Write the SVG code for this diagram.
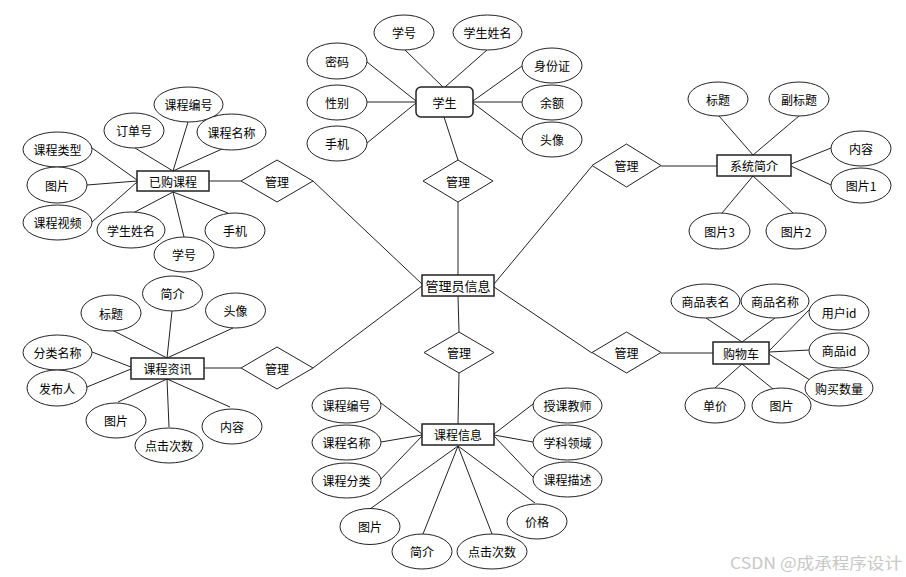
<svg xmlns="http://www.w3.org/2000/svg" width="906" height="577" viewBox="0 0 906 577">
<style>
.e{fill:#fff;stroke:#222;stroke-width:1}
.r{fill:#fff;stroke:#222;stroke-width:1.5}
.d{fill:#fff;stroke:#222;stroke-width:1}
.c line{stroke:#222;stroke-width:1}
text{font-family:"Microsoft YaHei","Noto Sans CJK SC","Noto Sans",sans-serif;font-size:12px;fill:#000;text-anchor:middle;dominant-baseline:central}
.big{font-size:13px}
.wm{font-size:16px;fill:#c8c8c8;text-anchor:start}
</style>
<rect width="906" height="577" fill="#fff"/>
<g class="c" id="connectors">
<line x1="405" y1="50" x2="443" y2="87"/>
<line x1="487" y1="50" x2="445" y2="87"/>
<line x1="367" y1="62" x2="416" y2="101"/>
<line x1="367" y1="102" x2="416" y2="102"/>
<line x1="367" y1="143" x2="416" y2="103"/>
<line x1="522" y1="66" x2="473" y2="101"/>
<line x1="522" y1="102" x2="473" y2="102"/>
<line x1="522" y1="140" x2="473" y2="103"/>
<line x1="444" y1="117" x2="458" y2="160"/>
<line x1="458" y1="202" x2="458" y2="275"/>
<line x1="173" y1="171" x2="188" y2="122"/>
<line x1="173" y1="171" x2="135" y2="148"/>
<line x1="173" y1="171" x2="222" y2="149"/>
<line x1="92" y1="148" x2="137" y2="180"/>
<line x1="87" y1="185" x2="137" y2="181"/>
<line x1="92" y1="222" x2="137" y2="182"/>
<line x1="173" y1="192" x2="133" y2="213"/>
<line x1="173" y1="192" x2="184" y2="237"/>
<line x1="173" y1="192" x2="228" y2="213"/>
<line x1="209" y1="181" x2="241" y2="181"/>
<line x1="313" y1="181" x2="422" y2="284"/>
<line x1="167" y1="358" x2="112" y2="330"/>
<line x1="167" y1="358" x2="172" y2="311"/>
<line x1="167" y1="358" x2="233" y2="328"/>
<line x1="131" y1="367" x2="92" y2="352"/>
<line x1="131" y1="369" x2="87" y2="387"/>
<line x1="167" y1="379" x2="118" y2="402"/>
<line x1="167" y1="379" x2="169" y2="427"/>
<line x1="167" y1="379" x2="230" y2="407"/>
<line x1="204" y1="368" x2="241" y2="368"/>
<line x1="313" y1="368" x2="422" y2="286"/>
<line x1="494" y1="284" x2="592" y2="166"/>
<line x1="661" y1="166" x2="717" y2="166"/>
<line x1="753" y1="155" x2="719" y2="116"/>
<line x1="753" y1="155" x2="799" y2="116"/>
<line x1="791" y1="164" x2="831" y2="148"/>
<line x1="791" y1="166" x2="831" y2="185"/>
<line x1="753" y1="176" x2="722" y2="213"/>
<line x1="753" y1="176" x2="793" y2="213"/>
<line x1="494" y1="287" x2="592" y2="353"/>
<line x1="661" y1="353" x2="713" y2="353"/>
<line x1="742" y1="342" x2="706" y2="318"/>
<line x1="742" y1="342" x2="775" y2="318"/>
<line x1="769" y1="351" x2="810" y2="309"/>
<line x1="769" y1="352" x2="810" y2="350"/>
<line x1="769" y1="354" x2="813" y2="382"/>
<line x1="742" y1="364" x2="715" y2="388"/>
<line x1="742" y1="364" x2="773" y2="389"/>
<line x1="458" y1="296" x2="459" y2="332"/>
<line x1="459" y1="373" x2="458" y2="424"/>
<line x1="381" y1="403" x2="422" y2="434"/>
<line x1="381" y1="442" x2="422" y2="435"/>
<line x1="379" y1="481" x2="422" y2="436"/>
<line x1="494" y1="434" x2="533" y2="404"/>
<line x1="494" y1="435" x2="533" y2="442"/>
<line x1="494" y1="436" x2="533" y2="477"/>
<line x1="458" y1="446" x2="370" y2="509"/>
<line x1="458" y1="446" x2="423" y2="534"/>
<line x1="458" y1="446" x2="492" y2="534"/>
<line x1="458" y1="446" x2="535" y2="503"/>
</g>

<g id="admin"><rect class="r" x="422" y="275" width="72" height="21"/><text class="big" x="458" y="285.5">管理员信息</text></g>

<g id="student"><rect class="r" x="416" y="87" width="57" height="30" rx="5"/><text x="444.5" y="102">学生</text></g>
<g id="s_xuehao"><ellipse class="e" cx="404" cy="32.5" rx="30" ry="17.5"/><text x="404" y="32.5">学号</text></g>
<g id="s_name"><ellipse class="e" cx="487.5" cy="32.5" rx="34.5" ry="17.5"/><text x="487.5" y="32.5">学生姓名</text></g>
<g id="s_pwd"><ellipse class="e" cx="337" cy="61" rx="30" ry="18"/><text x="337" y="61">密码</text></g>
<g id="s_sex"><ellipse class="e" cx="337" cy="102.5" rx="30" ry="17.5"/><text x="337" y="102.5">性别</text></g>
<g id="s_phone"><ellipse class="e" cx="337" cy="143.5" rx="30" ry="17.5"/><text x="337" y="143.5">手机</text></g>
<g id="s_id"><ellipse class="e" cx="552" cy="65.5" rx="30" ry="17.5"/><text x="552" y="65.5">身份证</text></g>
<g id="s_bal"><ellipse class="e" cx="552" cy="102.5" rx="30" ry="17.5"/><text x="552" y="102.5">余额</text></g>
<g id="s_avatar"><ellipse class="e" cx="552" cy="139.5" rx="30" ry="17.5"/><text x="552" y="139.5">头像</text></g>
<g id="rel_student"><polygon class="d" points="458,160 493,181 458,202 423,181"/><text x="458" y="181">管理</text></g>

<g id="bought"><rect class="r" x="137" y="171" width="72" height="20"/><text x="173" y="181">已购课程</text></g>
<g id="b_code"><ellipse class="e" cx="188.5" cy="104.5" rx="34.5" ry="17.5"/><text x="188.5" y="104.5">课程编号</text></g>
<g id="b_order"><ellipse class="e" cx="134" cy="130.5" rx="30" ry="17.5"/><text x="134" y="130.5">订单号</text></g>
<g id="b_cname"><ellipse class="e" cx="231.5" cy="132" rx="34.5" ry="18"/><text x="231.5" y="132">课程名称</text></g>
<g id="b_type"><ellipse class="e" cx="57.5" cy="149.5" rx="34.5" ry="17.5"/><text x="57.5" y="149.5">课程类型</text></g>
<g id="b_pic"><ellipse class="e" cx="57" cy="185" rx="30" ry="18"/><text x="57" y="185">图片</text></g>
<g id="b_video"><ellipse class="e" cx="57.5" cy="222.5" rx="34.5" ry="17.5"/><text x="57.5" y="222.5">课程视频</text></g>
<g id="b_sname"><ellipse class="e" cx="131" cy="230" rx="34" ry="18"/><text x="131" y="230">学生姓名</text></g>
<g id="b_sno"><ellipse class="e" cx="184" cy="254.5" rx="30" ry="17.5"/><text x="184" y="254.5">学号</text></g>
<g id="b_phone"><ellipse class="e" cx="235" cy="230.5" rx="30" ry="17.5"/><text x="235" y="230.5">手机</text></g>
<g id="rel_bought"><polygon class="d" points="277,160 313,181 277,202 241,181"/><text x="277" y="181">管理</text></g>

<g id="news"><rect class="r" x="131" y="358" width="73" height="21"/><text x="167.5" y="368.5">课程资讯</text></g>
<g id="n_intro"><ellipse class="e" cx="172.5" cy="293.5" rx="30" ry="17.5"/><text x="172.5" y="293.5">简介</text></g>
<g id="n_title"><ellipse class="e" cx="111" cy="313" rx="30" ry="18"/><text x="111" y="313">标题</text></g>
<g id="n_avatar"><ellipse class="e" cx="235.5" cy="310.5" rx="30" ry="17.5"/><text x="235.5" y="310.5">头像</text></g>
<g id="n_cat"><ellipse class="e" cx="57.5" cy="352.5" rx="34.5" ry="17.5"/><text x="57.5" y="352.5">分类名称</text></g>
<g id="n_pub"><ellipse class="e" cx="57" cy="388" rx="30" ry="18"/><text x="57" y="388">发布人</text></g>
<g id="n_pic"><ellipse class="e" cx="116" cy="420.5" rx="30" ry="17.5"/><text x="116" y="420.5">图片</text></g>
<g id="n_clicks"><ellipse class="e" cx="169" cy="445.5" rx="34" ry="17.5"/><text x="169" y="445.5">点击次数</text></g>
<g id="n_content"><ellipse class="e" cx="232" cy="426.5" rx="30" ry="17.5"/><text x="232" y="426.5">内容</text></g>
<g id="rel_news"><polygon class="d" points="277,347 313,368 277,389 241,368"/><text x="277" y="368">管理</text></g>

<g id="sysintro"><rect class="r" x="717" y="155" width="74" height="21"/><text x="754" y="165.5">系统简介</text></g>
<g id="y_title"><ellipse class="e" cx="718" cy="99" rx="30" ry="17"/><text x="718" y="99">标题</text></g>
<g id="y_sub"><ellipse class="e" cx="799" cy="99" rx="30" ry="17"/><text x="799" y="99">副标题</text></g>
<g id="y_content"><ellipse class="e" cx="861" cy="148.5" rx="30" ry="17.5"/><text x="861" y="148.5">内容</text></g>
<g id="y_pic1"><ellipse class="e" cx="861" cy="185.5" rx="30" ry="17.5"/><text x="861" y="185.5">图片1</text></g>
<g id="y_pic3"><ellipse class="e" cx="719.5" cy="231" rx="30.5" ry="18"/><text x="719.5" y="231">图片3</text></g>
<g id="y_pic2"><ellipse class="e" cx="796" cy="231" rx="30" ry="18"/><text x="796" y="231">图片2</text></g>
<g id="rel_sys"><polygon class="d" points="626.5,144 661,165.5 626.5,187 592,165.5"/><text x="626.5" y="165.5">管理</text></g>

<g id="cart"><rect class="r" x="713" y="342" width="56" height="22"/><text x="741" y="353">购物车</text></g>
<g id="c_table"><ellipse class="e" cx="705.5" cy="301" rx="34.5" ry="17"/><text x="705.5" y="301">商品表名</text></g>
<g id="c_gname"><ellipse class="e" cx="775" cy="301" rx="34" ry="17"/><text x="775" y="301">商品名称</text></g>
<g id="c_uid"><ellipse class="e" cx="839" cy="312.5" rx="30" ry="17.5"/><text x="839" y="312.5">用户id</text></g>
<g id="c_gid"><ellipse class="e" cx="839" cy="350.5" rx="30" ry="17.5"/><text x="839" y="350.5">商品id</text></g>
<g id="c_qty"><ellipse class="e" cx="839" cy="388" rx="34" ry="18"/><text x="839" y="388">购买数量</text></g>
<g id="c_price"><ellipse class="e" cx="715" cy="405.5" rx="30" ry="17.5"/><text x="715" y="405.5">单价</text></g>
<g id="c_pic"><ellipse class="e" cx="781.5" cy="405.5" rx="29.5" ry="17.5"/><text x="781.5" y="405.5">图片</text></g>
<g id="rel_cart"><polygon class="d" points="626.5,332 661,352.5 626.5,373 592,352.5"/><text x="626.5" y="352.5">管理</text></g>

<g id="course"><rect class="r" x="422" y="424" width="72" height="21"/><text x="458" y="434.5">课程信息</text></g>
<g id="k_code"><ellipse class="e" cx="346.5" cy="405.5" rx="34.5" ry="17.5"/><text x="346.5" y="405.5">课程编号</text></g>
<g id="k_name"><ellipse class="e" cx="346.5" cy="442.5" rx="34.5" ry="17.5"/><text x="346.5" y="442.5">课程名称</text></g>
<g id="k_cat"><ellipse class="e" cx="346.5" cy="480.5" rx="34.5" ry="17.5"/><text x="346.5" y="480.5">课程分类</text></g>
<g id="k_pic"><ellipse class="e" cx="370" cy="526.5" rx="30" ry="18"/><text x="370" y="526.5">图片</text></g>
<g id="k_intro"><ellipse class="e" cx="422" cy="551.5" rx="30" ry="17.5"/><text x="422" y="551.5">简介</text></g>
<g id="k_clicks"><ellipse class="e" cx="492" cy="551.5" rx="35" ry="17.5"/><text x="492" y="551.5">点击次数</text></g>
<g id="k_price"><ellipse class="e" cx="537" cy="521.5" rx="30" ry="17.5"/><text x="537" y="521.5">价格</text></g>
<g id="k_teacher"><ellipse class="e" cx="567.5" cy="405.5" rx="34.5" ry="17.5"/><text x="567.5" y="405.5">授课教师</text></g>
<g id="k_field"><ellipse class="e" cx="567.5" cy="442.5" rx="34.5" ry="17.5"/><text x="567.5" y="442.5">学科领域</text></g>
<g id="k_desc"><ellipse class="e" cx="567.5" cy="479.5" rx="34.5" ry="17.5"/><text x="567.5" y="479.5">课程描述</text></g>
<g id="rel_course"><polygon class="d" points="459,332 494,352.5 459,373 424,352.5"/><text x="459" y="352.5">管理</text></g>

<text class="wm" x="730" y="562" textLength="172" lengthAdjust="spacingAndGlyphs">CSDN @成承程序设计</text>
</svg>
